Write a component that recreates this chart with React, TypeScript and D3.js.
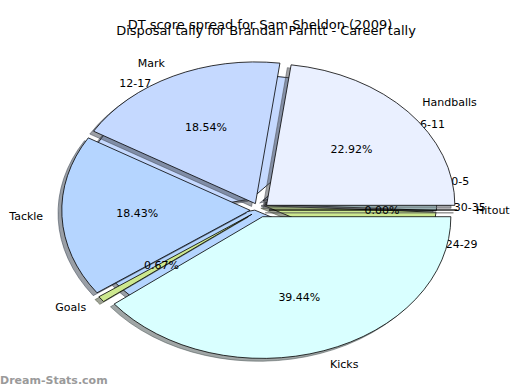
import React from "react";
import * as d3 from "d3";

// front chart: disposal tally
const fgTitle = "Disposal tally for Brandan Parfitt - Career tally";
const fgLabels = ["Handballs", "Mark", "Tackle", "Goals", "Kicks", "Hitout"];
const fgValues = [22.92, 18.54, 18.43, 0.67, 39.44, 0.0];
const fgColors = ["#eaf0ff", "#c5d9ff", "#b5d5ff", "#cde88f", "#d9ffff", "#ffffff"];

// chart left underneath: DT score spread
const bgTitle = "DT score spread for Sam Sheldon (2009)";
const bgLabels = ["0-5", "6-11", "12-17", "18-23", "24-29", "30-35"];
const bgValues = [5.0, 8.89, 40.0, 37.78, 7.5, 0.83];
const bgColors = ["#eaf0ff", "#c5d9ff", "#c5d9ff", "#b5d5ff", "#cde88f", "#d9ffff"];

const W = 520;
const H = 390;

interface PieGeom {
  cx: number;
  cy: number;
  rx: number;
  ry: number;
  explode: number;
}

const fgGeom: PieGeom = { cx: 259.5, cy: 210, rx: 188.3, ry: 141.7, explode: 0.05 };
const bgGeom: PieGeom = { cx: 256, cy: 204, rx: 172, ry: 124, explode: 0.05 };

function shade(c: string) {
  const rgb = d3.rgb(c);
  return d3.rgb(rgb.r * 0.3, rgb.g * 0.3, rgb.b * 0.3).toString();
}

function wedgePath(cx: number, cy: number, rx: number, ry: number, t1: number, t2: number) {
  const x1 = cx + rx * Math.cos(t1);
  const y1 = cy - ry * Math.sin(t1);
  if (t2 - t1 < 1e-9) return `M${cx},${cy}L${x1},${y1}Z`;
  const x2 = cx + rx * Math.cos(t2);
  const y2 = cy - ry * Math.sin(t2);
  const large = t2 - t1 > Math.PI ? 1 : 0;
  return `M${cx},${cy}L${x1},${y1}A${rx},${ry} 0 ${large} 0 ${x2},${y2}Z`;
}

function layout(values: number[], g: PieGeom) {
  const arcs = d3.pie<number>().sort(null).value(d => d).startAngle(0).endAngle(2 * Math.PI)(values);
  return arcs.map(a => {
    const mid = (a.startAngle + a.endAngle) / 2;
    const ox = g.cx + g.explode * g.rx * Math.cos(mid);
    const oy = g.cy - g.explode * g.ry * Math.sin(mid);
    return { a, mid, ox, oy };
  });
}

function Pie({ values, labels, colors, geom, pct }: { values: number[]; labels: string[]; colors: string[]; geom: PieGeom; pct: boolean }) {
  const parts = layout(values, geom);
  const total = d3.sum(values);
  const sdx = -0.02 * geom.rx;
  const sdy = 0.02 * geom.ry;
  return (
    <g>
      {parts.map((p, i) => (
        <path key={"s" + i} d={wedgePath(p.ox + sdx, p.oy + sdy, geom.rx, geom.ry, p.a.startAngle, p.a.endAngle)}
          fill={shade(colors[i])} fillOpacity={0.5} stroke={shade(colors[i])} strokeOpacity={0.5} strokeWidth={1} />
      ))}
      {parts.map((p, i) => (
        <path key={"w" + i} d={wedgePath(p.ox, p.oy, geom.rx, geom.ry, p.a.startAngle, p.a.endAngle)}
          fill={colors[i]} stroke="#000" strokeWidth={0.8} strokeLinejoin="round" />
      ))}
      {parts.map((p, i) => {
        const c = Math.cos(p.mid);
        return (
          <text key={"l" + i} x={p.ox + 1.1 * geom.rx * c} y={p.oy - 1.1 * geom.ry * Math.sin(p.mid)}
            textAnchor={c > 0 ? "start" : "end"} dominantBaseline="central" fontSize={11}>
            {labels[i]}
          </text>
        );
      })}
      {pct && parts.map((p, i) => (
        <text key={"p" + i} x={p.ox + 0.6 * geom.rx * Math.cos(p.mid)} y={p.oy - 0.6 * geom.ry * Math.sin(p.mid)}
          textAnchor="middle" dominantBaseline="central" fontSize={11}>
          {((values[i] / total) * 100).toFixed(2) + "%"}
        </text>
      ))}
    </g>
  );
}

export default function App() {
  return (
    <div style={{ position: "fixed", left: 0, top: 0 }}>
      <svg width={W} height={H} style={{ display: "block", background: "#fff" }}
        fontFamily="'DejaVu Sans', sans-serif" fill="#000">
        <Pie values={bgValues} labels={bgLabels} colors={bgColors} geom={bgGeom} pct={false} />
        <text x={260} y={29} textAnchor="middle" fontSize={13}>{bgTitle}</text>
        <Pie values={fgValues} labels={fgLabels} colors={fgColors} geom={fgGeom} pct={true} />
        <text x={266} y={35} textAnchor="middle" fontSize={13}>{fgTitle}</text>
        <text x={0} y={384} fontSize={11} fontWeight="bold" fill="#9a9a9a">Dream-Stats.com</text>
      </svg>
    </div>
  );
}
